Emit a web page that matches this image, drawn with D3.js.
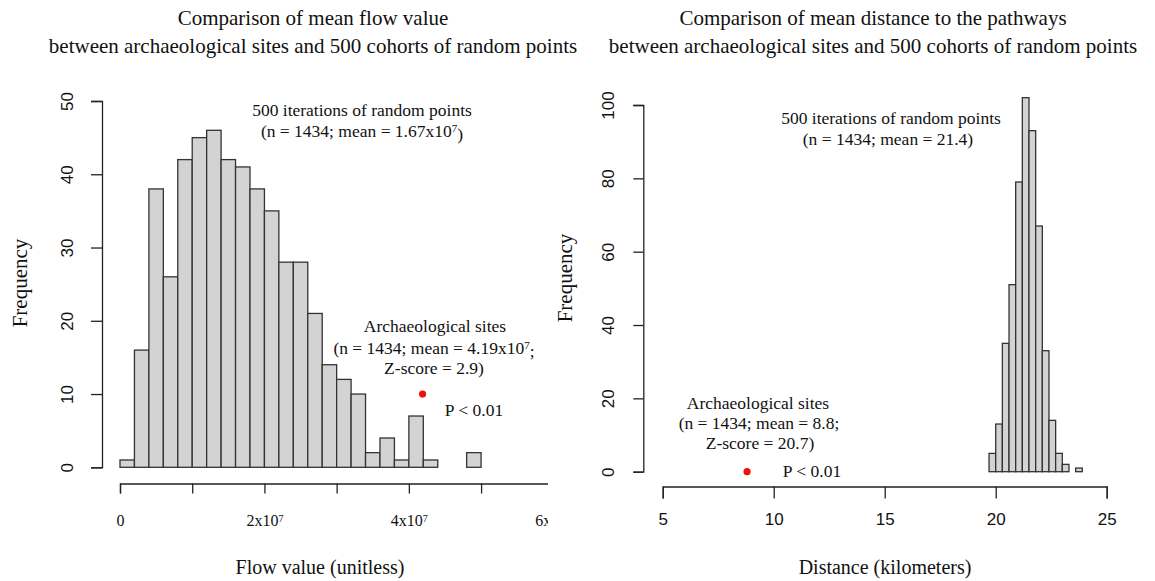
<!DOCTYPE html>
<html>
<head>
<meta charset="utf-8">
<script src="https://cdn.jsdelivr.net/npm/d3@7"></script>
<style>
  body { margin: 0; background: #fff; }
  svg { display: block; }
  .serif { font-family: "Liberation Serif", "Times New Roman", serif; fill: #111; }
  .sans { font-family: "Liberation Sans", Arial, sans-serif; fill: #111; }
</style>
</head>
<body>
<div class="chart"></div>
<script>
// flow value histogram (500 random cohorts)
const flowBreaks = [0, 2e6, 4e6, 6e6, 8e6, 10e6, 12e6, 14e6, 16e6, 18e6, 20e6, 22e6, 24e6,
                    26e6, 28e6, 30e6, 32e6, 34e6, 36e6, 38e6, 40e6, 42e6, 44e6, 46e6, 48e6, 50e6];
const flowCounts = [1, 16, 38, 26, 42, 45, 46, 42, 41, 38, 35, 28, 28, 21, 14, 12, 10, 2, 4, 1, 7, 1, 0, 0, 2];
const flowTicks = [0, 1e7, 2e7, 3e7, 4e7, 5e7, 6e7];
const flowTickLabels = ["0", "", "2x10|7", "", "4x10|7", "", "6x10|7"];
const flowYTicks = [0, 10, 20, 30, 40, 50];
const flowSite = { x: 4.19e7, y: 10 };

// distance histogram
const distBreaks = [19.7, 20.0, 20.3, 20.6, 20.9, 21.2, 21.5, 21.8, 22.1, 22.4, 22.7, 23.0, 23.3, 23.6, 23.9];
const distCounts = [5, 13, 35, 51, 79, 102, 93, 67, 33, 14, 5, 2, 0, 1];
const distTicks = [5, 10, 15, 20, 25];
const distYTicks = [0, 20, 40, 60, 80, 100];
const distSite = { x: 8.8, y: 0 };

const w = 1155, h = 581;

const svg = d3.select(".chart").append("svg")
  .attr("width", w)
  .attr("height", h);

svg.append("rect").attr("width", w).attr("height", h).attr("fill", "#fff");

svg.append("defs").append("clipPath").attr("id", "leftclip")
  .append("rect").attr("x", 0).attr("y", 0).attr("width", 548).attr("height", h);

const barFill = "#d3d3d3", barStroke = "#333";

// helper: "before|sup|after" -> text with a superscript part
function supText(sel, str, supSize) {
  const parts = str.split("|");
  sel.text(null);
  sel.append("tspan").text(parts[0]);
  if (parts.length > 1) {
    sel.append("tspan").attr("dy", "-0.45em").attr("font-size", supSize).text(parts[1]);
  }
  if (parts.length > 2) {
    sel.append("tspan").attr("dy", "0.45em").text(parts[2]);
  }
}

function styleAxis(g) {
  g.selectAll(".domain").attr("stroke", "#222").attr("stroke-width", 1.3);
  g.selectAll(".tick line").attr("stroke", "#222").attr("stroke-width", 1.3);
}

/* ---------------- left panel ---------------- */
const left = svg.append("g").attr("clip-path", "url(#leftclip)");

const x1 = d3.scaleLinear().domain([0, 6e7]).range([120, 553.3]);
const y1 = d3.scaleLinear().domain([0, 50]).range([467.3, 101]);

left.append("g").selectAll("rect")
  .data(flowCounts)
  .enter().append("rect")
    .attr("x", (d, i) => x1(flowBreaks[i]))
    .attr("width", (d, i) => x1(flowBreaks[i + 1]) - x1(flowBreaks[i]))
    .attr("y", d => y1(d))
    .attr("height", d => y1(0) - y1(d))
    .attr("fill", barFill)
    .attr("stroke", barStroke)
    .attr("stroke-width", 1.3);

const xAxis1 = left.append("g")
  .attr("transform", "translate(0,483.5)")
  .call(d3.axisBottom(x1).tickValues(flowTicks).tickSize(10).tickSizeOuter(10).tickFormat(""));
styleAxis(xAxis1);

xAxis1.selectAll(".tick").each(function(d, i) {
  const t = d3.select(this).append("text")
    .attr("class", "serif")
    .attr("y", 42.5)
    .attr("text-anchor", "middle")
    .attr("font-size", 16);
  supText(t, flowTickLabels[i], 10);
});

const yAxis1 = left.append("g")
  .attr("transform", "translate(102,0)")
  .call(d3.axisLeft(y1).tickValues(flowYTicks).tickSize(11).tickSizeOuter(11));
styleAxis(yAxis1);
yAxis1.selectAll(".tick text")
  .attr("class", "sans")
  .attr("x", null).attr("dy", null)
  .attr("transform", "translate(-29,0) rotate(-90)")
  .attr("text-anchor", "middle")
  .attr("font-size", 17);

left.append("circle")
  .attr("cx", x1(flowSite.x)).attr("cy", y1(flowSite.y))
  .attr("r", 3.6).attr("fill", "#ee1111");

/* ---------------- right panel ---------------- */
const right = svg.append("g");

const x2 = d3.scaleLinear().domain([5, 25]).range([662.7, 1106.7]);
const y2 = d3.scaleLinear().domain([0, 100]).range([471.7, 105]);

right.append("g").selectAll("rect")
  .data(distCounts)
  .enter().append("rect")
    .attr("x", (d, i) => x2(distBreaks[i]))
    .attr("width", (d, i) => x2(distBreaks[i + 1]) - x2(distBreaks[i]))
    .attr("y", d => y2(d))
    .attr("height", d => y2(0) - y2(d))
    .attr("fill", barFill)
    .attr("stroke", barStroke)
    .attr("stroke-width", 1.3);

const xAxis2 = right.append("g")
  .attr("transform", "translate(0,486.5)")
  .call(d3.axisBottom(x2).tickValues(distTicks).tickSize(12).tickSizeOuter(12));
styleAxis(xAxis2);
xAxis2.selectAll(".tick text")
  .attr("class", "sans")
  .attr("y", 38.5).attr("dy", null)
  .attr("font-size", 17);

const yAxis2 = right.append("g")
  .attr("transform", "translate(643.3,0)")
  .call(d3.axisLeft(y2).tickValues(distYTicks).tickSize(10).tickSizeOuter(10));
styleAxis(yAxis2);
yAxis2.selectAll(".tick text")
  .attr("class", "sans")
  .attr("x", null).attr("dy", null)
  .attr("transform", "translate(-29,0) rotate(-90)")
  .attr("text-anchor", "middle")
  .attr("font-size", 17);

right.append("circle")
  .attr("cx", x2(distSite.x)).attr("cy", y2(distSite.y))
  .attr("r", 3.6).attr("fill", "#ee1111");

/* ---------------- text ---------------- */
function label(x, y, str, size, opts) {
  opts = opts || {};
  const t = svg.append("text")
    .attr("class", opts.cls || "serif")
    .attr("text-anchor", "middle")
    .attr("font-size", size);
  if (opts.rotate) {
    t.attr("transform", `translate(${x},${y}) rotate(-90)`);
  } else {
    t.attr("x", x).attr("y", y);
  }
  supText(t, str, Math.round(size * 0.6));
  return t;
}

// titles
label(313, 25, "Comparison of mean flow value", 21);
label(313, 53, "between archaeological sites and 500 cohorts of random points", 21);
label(873, 25, "Comparison of mean distance to the pathways", 21);
label(873, 53, "between archaeological sites and 500 cohorts of random points", 21);

// left annotations
label(362, 116, "500 iterations of random points", 17.5);
label(362, 137, "(n = 1434; mean = 1.67x10|7|)", 17.5);
label(435, 332, "Archaeological sites", 17.5);
label(434, 354, "(n = 1434; mean = 4.19x10|7|;", 17.5);
label(434, 374, "Z-score = 2.9)", 17.5);
label(474, 416, "P < 0.01", 17.5);

// right annotations
label(891, 124, "500 iterations of random points", 17.5);
label(888, 145, "(n = 1434; mean = 21.4)", 17.5);
label(758, 409, "Archaeological sites", 17.5);
label(759, 429, "(n = 1434; mean = 8.8;", 17.5);
label(760, 449, "Z-score = 20.7)", 17.5);
label(812, 477, "P < 0.01", 17.5);

// axis titles
label(320, 574, "Flow value (unitless)", 20);
label(885, 574, "Distance (kilometers)", 20);
label(27, 283, "Frequency", 21, { rotate: true });
label(572, 278, "Frequency", 21, { rotate: true });
</script>
</body>
</html>
